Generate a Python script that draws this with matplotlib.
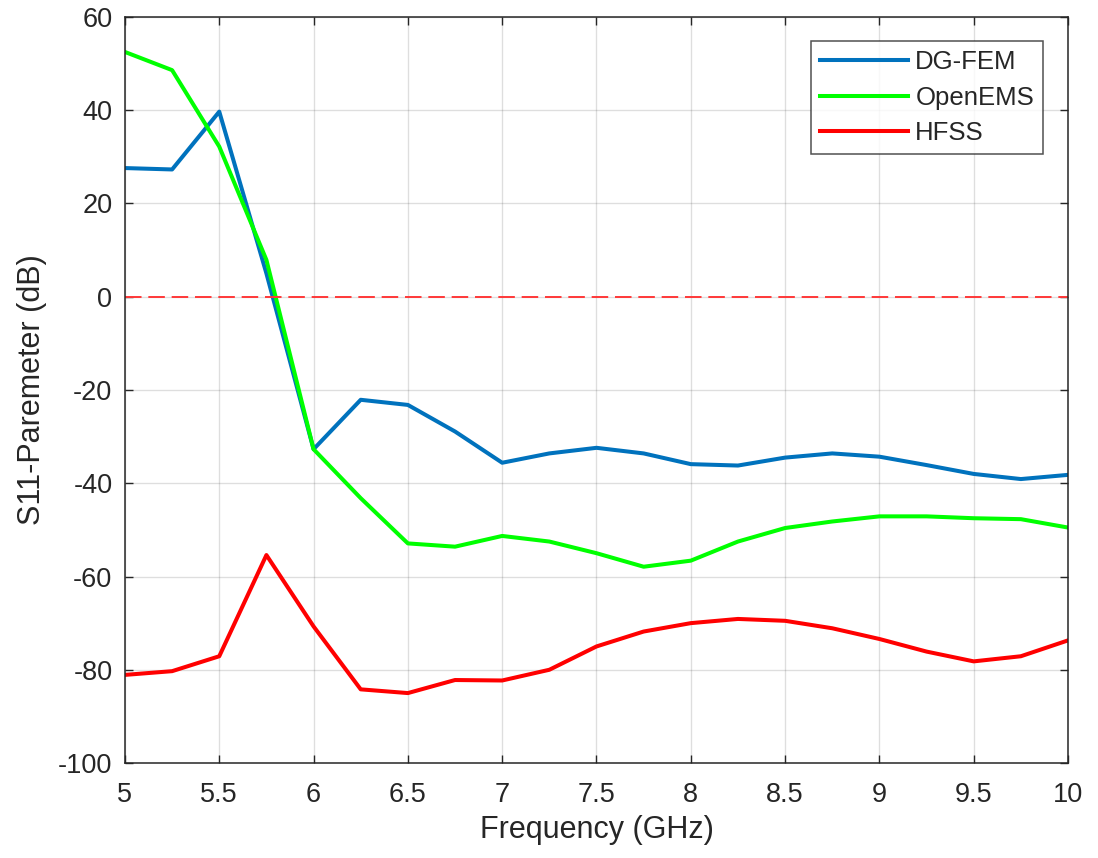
import matplotlib
matplotlib.use("Agg")
import matplotlib.pyplot as plt

freq = [5.0, 5.25, 5.5, 5.75, 6.0, 6.25, 6.5, 6.75, 7.0, 7.25, 7.5,
        7.75, 8.0, 8.25, 8.5, 8.75, 9.0, 9.25, 9.5, 9.75, 10.0]
dgfem = [27.6, 27.3, 39.7, 5.0, -32.7, -22.1, -23.2, -28.9, -35.6, -33.6, -32.4,
         -33.6, -35.9, -36.2, -34.5, -33.6, -34.3, -36.1, -38.0, -39.1, -38.2]
openems = [52.5, 48.6, 32.2, 7.9, -32.7, -43.2, -52.9, -53.6, -51.3, -52.5, -55.0,
           -57.9, -56.6, -52.5, -49.6, -48.2, -47.1, -47.1, -47.5, -47.7, -49.5]
hfss = [-81.1, -80.3, -77.1, -55.4, -70.7, -84.2, -85.0, -82.2, -82.3, -80.0, -75.0,
        -71.8, -70.0, -69.1, -69.5, -71.1, -73.4, -76.1, -78.2, -77.1, -73.7]
series_names = ["DG-FEM", "OpenEMS", "HFSS"]
xticks = [5, 5.5, 6, 6.5, 7, 7.5, 8, 8.5, 9, 9.5, 10]
yticks = [-100, -80, -60, -40, -20, 0, 20, 40, 60]

plt.rcParams['font.family'] = ['Liberation Sans', 'DejaVu Sans']
plt.rcParams['axes.unicode_minus'] = False
txt = '#262626'

fig = plt.figure(figsize=(10.98, 8.58), dpi=100)
ax = fig.add_axes([0.1138, 0.1107, 0.8589, 0.8695])

ax.plot(freq, dgfem, color='#0072BD', lw=2.9, label=series_names[0])
ax.plot(freq, openems, color='#00FF00', lw=2.9, label=series_names[1])
ax.plot(freq, hfss, color='#FF0000', lw=2.9, label=series_names[2])
ax.axhline(0, color='#FF3838', lw=1.4, dashes=(8.5, 3.5))

ax.set_xlim(5, 10)
ax.set_ylim(-100, 60)
ax.set_xticks(xticks)
ax.set_xticklabels([f"{t:g}" for t in xticks])
ax.set_yticks(yticks)
ax.set_yticklabels([f"{t:g}" for t in yticks])
ax.grid(True, color='#262626', alpha=0.15, lw=1.0)
ax.tick_params(direction='in', top=True, right=True, labelsize=19.5,
               colors=txt, length=6, width=1.0)
ax.tick_params(axis='x', pad=14)
ax.tick_params(axis='y', pad=9)
for s in ax.spines.values():
    s.set_color('#262626')
    s.set_linewidth(1.1)
ax.set_xlabel("Frequency (GHz)", fontsize=22, color=txt, labelpad=5)
ax.set_ylabel("S11-Paremeter (dB)", fontsize=22, color=txt, labelpad=8)

leg = ax.legend(loc='upper right', bbox_to_anchor=(0.9735, 0.9678), fontsize=18.5,
                frameon=True, fancybox=False, edgecolor='#262626',
                handlelength=3.4, handletextpad=0.3, borderpad=0.35,
                labelspacing=0.45, borderaxespad=0)
leg.get_frame().set_linewidth(1.1)
for t in leg.get_texts():
    t.set_color(txt)

fig.savefig("out.png", dpi=100)
